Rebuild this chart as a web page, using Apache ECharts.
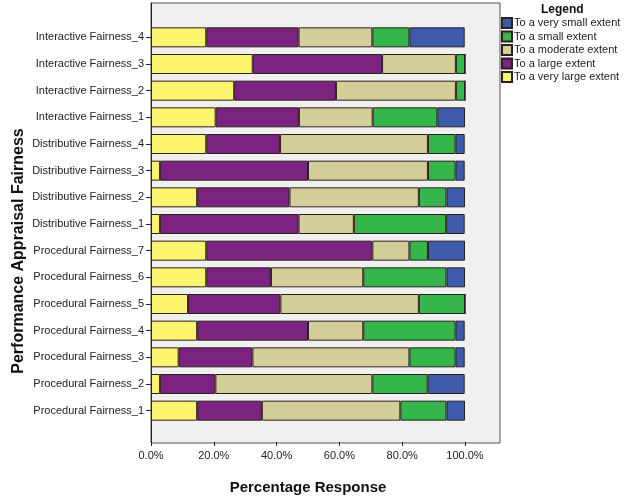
<!DOCTYPE html>
<html>
<head>
<meta charset="utf-8">
<script src="https://cdn.jsdelivr.net/npm/echarts@6/dist/echarts.min.js"></script>
<style>
html,body{margin:0;padding:0;background:#fff;}
#chart{width:624px;height:500px;}
</style>
</head>
<body>
<div id="chart"></div>
<script>
// Categories, bottom to top
var categories = [
  'Procedural Fairness_1','Procedural Fairness_2','Procedural Fairness_3','Procedural Fairness_4',
  'Procedural Fairness_5','Procedural Fairness_6','Procedural Fairness_7',
  'Distributive Fairness_1','Distributive Fairness_2','Distributive Fairness_3','Distributive Fairness_4',
  'Interactive Fairness_1','Interactive Fairness_2','Interactive Fairness_3','Interactive Fairness_4'
];
// Percentages per response level (same order as categories)
var veryLarge = [14.7, 2.9, 8.8, 14.7, 11.8, 17.6, 17.6, 2.9, 14.7, 2.9, 17.6, 20.6, 26.5, 32.4, 17.6];
var large     = [20.6, 17.6, 23.5, 35.3, 29.4, 20.6, 52.9, 44.1, 29.4, 47.1, 23.5, 26.5, 32.4, 41.2, 29.4];
var moderate  = [44.1, 50.0, 50.0, 17.6, 44.1, 29.4, 11.8, 17.6, 41.2, 38.2, 47.1, 23.5, 38.2, 23.5, 23.5];
var small     = [14.7, 17.6, 14.7, 29.4, 14.7, 26.5, 5.9, 29.4, 8.8, 8.8, 8.8, 20.6, 2.9, 2.9, 11.8];
var verySmall = [5.9, 11.8, 2.9, 2.9, 0, 5.9, 11.8, 5.9, 5.9, 2.9, 2.9, 8.8, 0, 0, 17.6];
var xTicks = [0, 20, 40, 60, 80, 100];

var seriesNames = ['To a very large extent','To a large extent','To a moderate extent','To a small extent','To a very small extent'];
var seriesData = [veryLarge, large, moderate, small, verySmall];
var colors = ['#fdf56e', '#7c237f', '#d4cf98', '#34b64b', '#3d5aad'];

var FONT = "'Liberation Sans', Arial, sans-serif";
var chart = echarts.init(document.getElementById('chart'), null, {renderer: 'canvas'});

var series = seriesNames.map(function (name, i) {
  return {
    name: name,
    type: 'bar',
    stack: 'total',
    xAxisIndex: 2,
    yAxisIndex: 2,
    barWidth: 20,
    data: seriesData[i],
    itemStyle: {color: colors[i], borderColor: '#2b1f1f', borderWidth: 1},
    emphasis: {disabled: true},
    animation: false
  };
});

chart.setOption({
  animation: false,
  textStyle: {fontFamily: FONT},
  grid: [
    {left: 151, top: 3, width: 349, height: 440, show: true, backgroundColor: '#f0f0f0', borderColor: '#555', borderWidth: 1},
    {left: 151, top: 3, width: 314, height: 440},
    {left: 151, top: 24, width: 314, height: 400}
  ],
  xAxis: [
    {gridIndex: 0, type: 'value', min: 0, max: 100, show: false},
    {gridIndex: 1, type: 'value', min: xTicks[0], max: xTicks[xTicks.length - 1], interval: 20,
      axisLine: {show: false},
      axisTick: {show: true, length: 4, lineStyle: {color: '#222'}},
      splitLine: {show: false},
      axisLabel: {fontSize: 11, color: '#222', margin: 8, fontFamily: FONT,
        formatter: function (v) { return v.toFixed(1) + '%'; }},
      name: 'Percentage Response', nameLocation: 'middle', nameGap: 38,
      nameTextStyle: {fontSize: 15, fontWeight: 'bold', color: '#111', fontFamily: FONT}
    },
    {gridIndex: 2, type: 'value', min: 0, max: 100, show: false}
  ],
  yAxis: [
    {gridIndex: 0, type: 'value', show: false},
    {gridIndex: 1, type: 'value', min: 0, max: 1,
      axisLine: {show: true, lineStyle: {color: '#222', width: 1}},
      axisTick: {show: false}, axisLabel: {show: false}, splitLine: {show: false}},
    {gridIndex: 2, type: 'category', data: categories,
      axisLine: {show: false},
      axisTick: {show: true, alignWithLabel: true, length: 5, lineStyle: {color: '#222'}},
      axisLabel: {fontSize: 11, color: '#222', margin: 7, fontFamily: FONT},
      splitLine: {show: false}}
  ],
  legend: {
    orient: 'vertical',
    left: 501,
    top: 17,
    padding: 0,
    itemWidth: 10,
    itemHeight: 10,
    itemGap: 1.5,
    icon: 'rect',
    selectedMode: false,
    data: ['To a very small extent','To a small extent','To a moderate extent','To a large extent','To a very large extent'],
    textStyle: {fontSize: 11, color: '#222', padding: [0, 0, 0, -3], fontFamily: FONT}
  },
  graphic: [
    {type: 'text', left: 541, top: 4, style: {text: 'Legend', font: 'bold 12px ' + FONT, fill: '#111'}},
    {type: 'text', x: 19, y: 251, rotation: Math.PI / 2,
      style: {text: 'Performance Appraisal Fairness', font: 'bold 16px ' + FONT, fill: '#111', textAlign: 'center', textVerticalAlign: 'middle'}}
  ],
  series: series
});
</script>
</body>
</html>
